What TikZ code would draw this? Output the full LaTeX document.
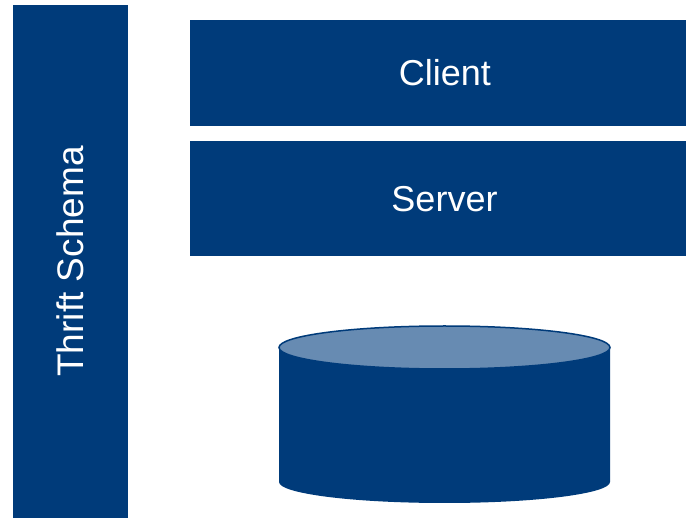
\documentclass[tikz,border=0pt]{standalone}
\usepackage{fontspec}
\setmainfont{Liberation Sans}
\usepackage{xcolor}
\usepackage{tikz}
\usetikzlibrary{positioning}

\definecolor{thriftblue}{RGB}{0,59,122}
\definecolor{disktop}{RGB}{103,139,178}

\begin{document}
\begin{tikzpicture}[x=1pt,y=-1pt,
    layer/.style={rectangle, fill=thriftblue, inner sep=0pt},
    layerlbl/.style={text=white, inner sep=0pt, font=\fontsize{36}{40}\selectfont}]
    \useasboundingbox (0,0) rectangle (686,518);
    \node [layer, minimum width=115pt, minimum height=513pt] (schema) at (70.5,261.5) {};
    \node [layerlbl, rotate=90, font=\fontsize{37}{40}\selectfont] (schemalbl) at (schema.center) {Thrift Schema};
    \node [layer, minimum width=496pt, minimum height=106pt] (client) at (438,73) {};
    \node [layerlbl] (clientlbl) at ([xshift=7pt]client.center) {Client};
    \node [layer, minimum width=496pt, minimum height=115pt] (server) at (438,198.5) {};
    \node [layerlbl] (serverlbl) at ([xshift=6.5pt,yshift=-1pt]server.center) {Server};
    % disk
    \fill [thriftblue] (279,347.5) -- (279,482) arc [start angle=180, end angle=0, x radius=165.5, y radius=21] -- (610,347.5) -- cycle;
    \filldraw [fill=disktop, draw=thriftblue, line width=1.5pt] (444.5,347.5) ellipse [x radius=165.5, y radius=21.5];
  \end{tikzpicture}
\end{document}
